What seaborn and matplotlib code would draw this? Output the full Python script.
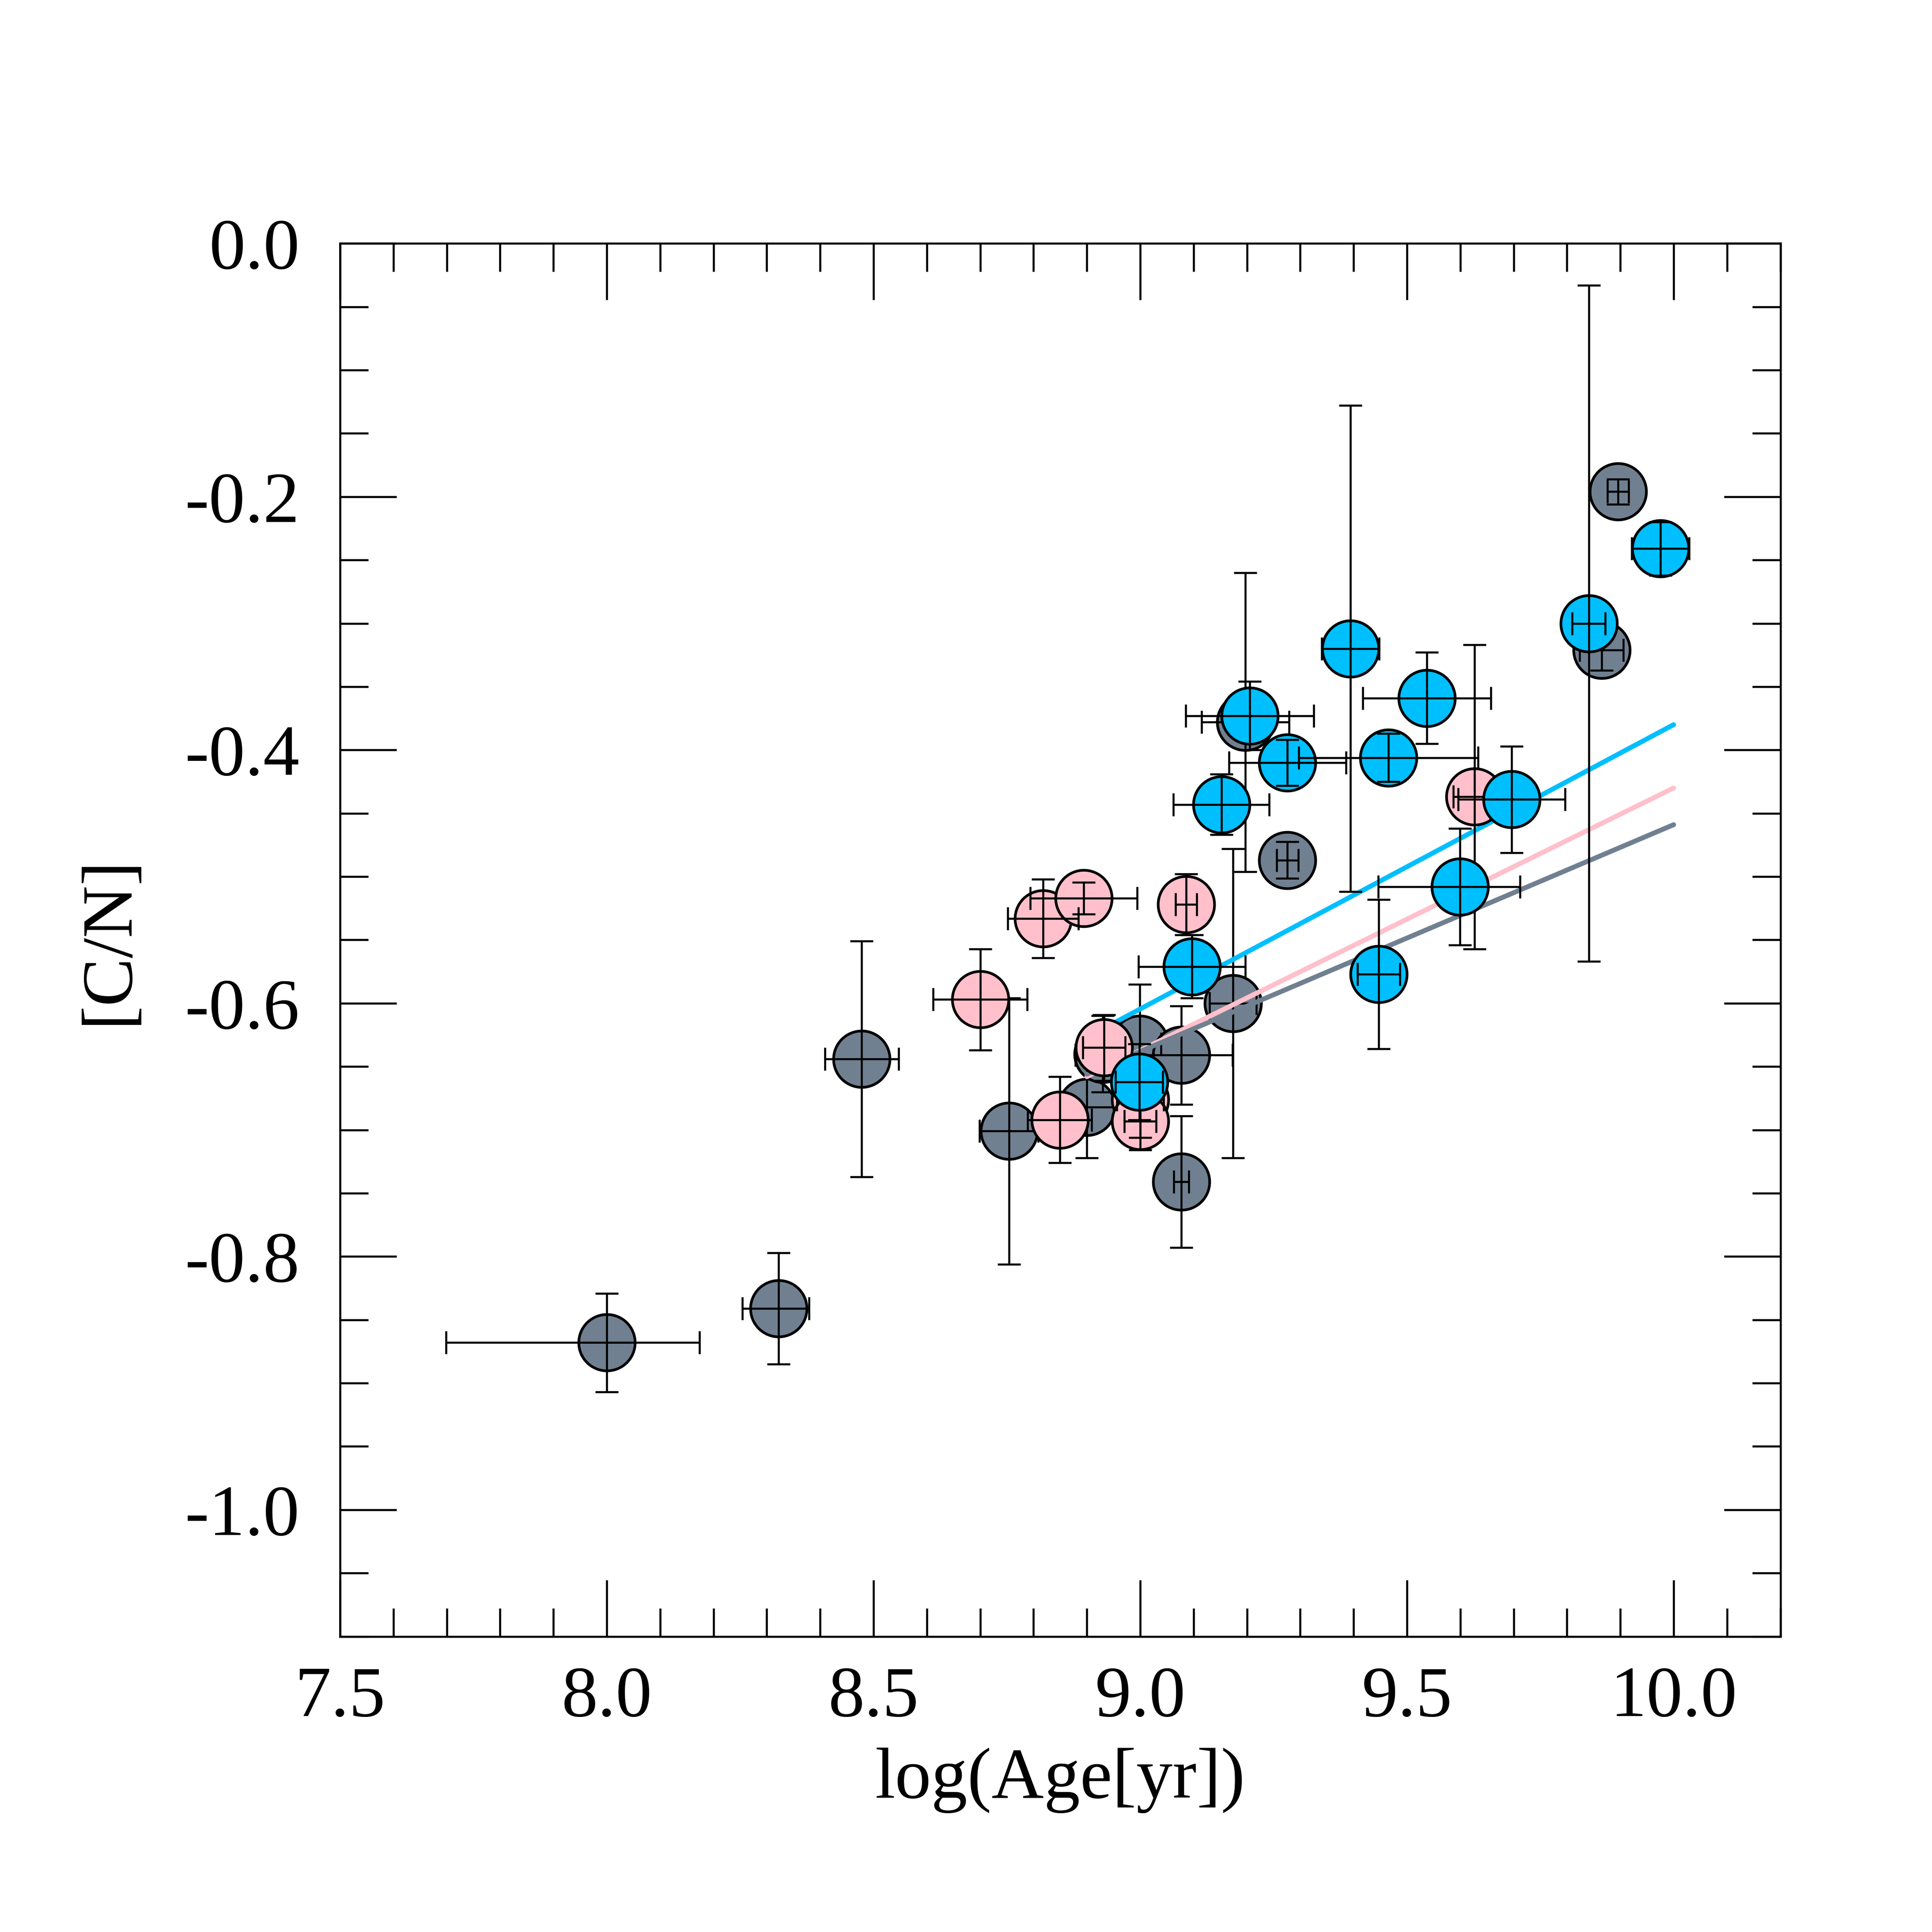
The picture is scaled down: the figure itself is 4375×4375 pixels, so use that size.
import numpy as np
import pandas as pd
import matplotlib
matplotlib.use("Agg")
import matplotlib.pyplot as plt
from matplotlib.ticker import MultipleLocator
import seaborn as sns

# slategray sample
gray_x = [8.000, 8.322, 8.478, 8.754, 8.900, 8.930, 8.999, 9.077, 9.077, 9.174, 9.197, 9.276, 9.896, 9.865]
gray_y = [-0.868, -0.841, -0.644, -0.701, -0.682, -0.640, -0.632, -0.641, -0.741, -0.600, -0.378, -0.487, -0.196, -0.321]
gray_xlo = [0.301, 0.068, 0.069, 0.055, 0.050, 0.050, 0.040, 0.199, 0.014, 0.044, 0.082, 0.020, 0.020, 0.041]
gray_xhi = [0.174, 0.057, 0.069, 0.055, 0.050, 0.050, 0.040, 0.096, 0.014, 0.044, 0.082, 0.020, 0.020, 0.041]
gray_yerr = [0.039, 0.044, 0.093, 0.105, 0.040, 0.030, 0.047, 0.039, 0.052, 0.122, 0.118, 0.0145, 0.010, 0.016]

# pink sample
pink_x = [8.700, 8.818, 8.894, 8.932, 8.849, 9.000, 9.000, 9.086, 9.627]
pink_y = [-0.597, -0.533, -0.517, -0.635, -0.692, -0.676, -0.693, -0.522, -0.437]
pink_xerr = [0.088, 0.066, 0.100, 0.040, 0.060, 0.044, 0.030, 0.020, 0.040]
pink_yerr = [0.040, 0.031, 0.0125, 0.026, 0.034, 0.030, 0.023, 0.024, 0.120]

# deepskyblue sample
blue_x = [9.097, 8.998, 9.152, 9.205, 9.276, 9.394, 9.465, 9.537, 9.447, 9.599, 9.696, 9.841, 9.975]
blue_y = [-0.571, -0.662, -0.443, -0.373, -0.410, -0.320, -0.406, -0.359, -0.577, -0.508, -0.439, -0.300, -0.241]
blue_xlo = [0.100, 0.044, 0.090, 0.120, 0.110, 0.054, 0.168, 0.120, 0.040, 0.153, 0.100, 0.031, 0.054]
blue_xhi = [0.100, 0.044, 0.090, 0.120, 0.110, 0.054, 0.168, 0.120, 0.040, 0.113, 0.100, 0.031, 0.054]
blue_yerr = [0.025, 0.030, 0.024, 0.027, 0.018, 0.192, 0.019, 0.036, 0.059, 0.046, 0.042, 0.267, 0.021]

# model trends
line_x = [8.9, 10.0]
line_blue = [-0.627, -0.380]
line_pink = [-0.658, -0.430]
line_gray = [-0.656, -0.459]

sns.set_style("ticks")
plt.rcParams["font.family"] = ["Liberation Serif", "DejaVu Serif"]
plt.rcParams["axes.unicode_minus"] = False

fig = plt.figure(figsize=(10, 10), dpi=437.5)
ax = fig.add_axes([0.176, 0.153, 0.7455, 0.721])

eb = dict(fmt="none", ecolor="black", elinewidth=0.75, capsize=4.2, capthick=0.75)


def draw_group(x, y, xerr, yerr, color, z):
    sns.scatterplot(x=x, y=y, s=21 ** 2, color=color, edgecolor="black",
                    linewidth=1.0, ax=ax, zorder=z, legend=False)
    ax.errorbar(x, y, xerr=xerr, yerr=yerr, zorder=z + 0.5, **eb)


draw_group(gray_x, gray_y, [gray_xlo, gray_xhi], gray_yerr, "slategray", 2)

lines = pd.DataFrame({
    "x": line_x * 3,
    "y": line_blue + line_pink + line_gray,
    "grp": ["blue"] * 2 + ["pink"] * 2 + ["gray"] * 2,
})
sns.lineplot(data=lines, x="x", y="y", hue="grp",
             palette={"blue": "deepskyblue", "pink": "pink", "gray": "slategray"},
             linewidth=1.8, legend=False, ax=ax, zorder=3)

draw_group(pink_x, pink_y, pink_xerr, pink_yerr, "pink", 4)
draw_group(blue_x, blue_y, [blue_xlo, blue_xhi], blue_yerr, "deepskyblue", 5)

ax.set_xlim(7.5, 10.2)
ax.set_ylim(-1.1, 0.0)
ax.xaxis.set_minor_locator(MultipleLocator(0.1))
ax.yaxis.set_minor_locator(MultipleLocator(0.05))
ax.set_xticks([7.5, 8.0, 8.5, 9.0, 9.5, 10.0])
ax.set_xticklabels(["7.5", "8.0", "8.5", "9.0", "9.5", "10.0"])
ax.set_yticks([0.0, -0.2, -0.4, -0.6, -0.8, -1.0])
ax.set_yticklabels(["0.0", "-0.2", "-0.4", "-0.6", "-0.8", "-1.0"])

ax.tick_params(which="both", direction="in", top=True, right=True,
               width=0.75, colors="black", labelsize=27)
ax.tick_params(which="major", length=21)
ax.tick_params(which="minor", length=10.5)
ax.tick_params(axis="x", which="major", pad=11)
ax.tick_params(axis="y", which="major", pad=15)
for s in ax.spines.values():
    s.set_linewidth(0.75)
    s.set_color("black")

ax.set_xlabel("log(Age[yr])", fontsize=27, labelpad=6, color="black")
ax.set_ylabel("[C/N]", fontsize=27, labelpad=16, color="black")

fig.savefig("out.png", dpi=437.5, facecolor="white")
